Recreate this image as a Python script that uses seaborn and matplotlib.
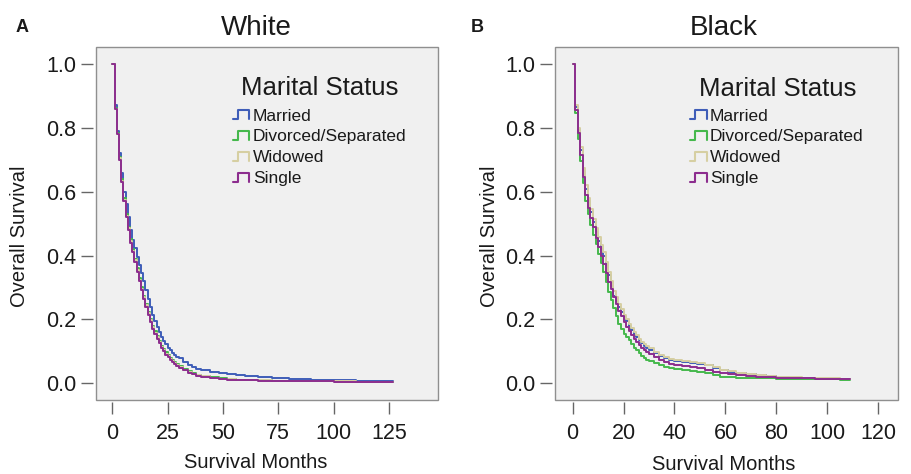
import matplotlib
matplotlib.use("Agg")
import matplotlib.pyplot as plt
import pandas as pd
import seaborn as sns
from matplotlib.legend_handler import HandlerBase
from matplotlib.lines import Line2D
from matplotlib.patches import Rectangle

# ---------------------------------------------------------------------------
# Data
# ---------------------------------------------------------------------------

STATUSES = ["Married", "Divorced/Separated", "Widowed", "Single"]
COLORS = ["#3F5DB8", "#45B84C", "#D6CFA2", "#8C2D8E"]

WHITE_MONTHS = [0, 1, 2, 3, 4, 5, 6, 7, 8, 9, 10, 11, 12,
                13, 14, 15, 16, 17, 18, 19, 20, 21, 22, 23, 24, 25, 26, 27,
                28, 29, 30,
                32, 34, 36, 38, 40,
                44, 48, 52, 56, 60,
                66, 72,
                80, 90, 100, 110, 120, 127]
WHITE_MARRIED = [1.0, 0.87, 0.79, 0.72, 0.66, 0.60, 0.56, 0.52, 0.48, 0.45,
                 0.425, 0.395, 0.37,
                 0.345, 0.32, 0.292, 0.265, 0.24, 0.215, 0.195, 0.175, 0.16,
                 0.145, 0.133, 0.122, 0.112, 0.103, 0.096, 0.09, 0.084, 0.079,
                 0.066, 0.058, 0.051, 0.046, 0.042,
                 0.037, 0.032, 0.028, 0.025, 0.022,
                 0.019, 0.017,
                 0.015, 0.012, 0.010, 0.008, 0.006, 0.005]
WHITE_DIVORCED = [1.0, 0.862, 0.785, 0.71, 0.64, 0.58, 0.53, 0.49, 0.452,
                  0.42, 0.39, 0.36, 0.33,
                  0.302, 0.275, 0.25, 0.225, 0.202, 0.18, 0.164, 0.148, 0.133,
                  0.118, 0.107, 0.097, 0.088, 0.08, 0.073, 0.066, 0.06, 0.054,
                  0.045, 0.038, 0.032, 0.027, 0.024,
                  0.019, 0.016, 0.014, 0.012, 0.011,
                  0.010, 0.009,
                  0.008, 0.007, 0.006, 0.005, 0.005, 0.004]
WHITE_WIDOWED = [1.0, 0.858, 0.78, 0.705, 0.635, 0.575, 0.525, 0.485, 0.446,
                 0.415, 0.385, 0.355, 0.325,
                 0.297, 0.27, 0.245, 0.22, 0.197, 0.175, 0.159, 0.144, 0.129,
                 0.114, 0.103, 0.093, 0.085, 0.077, 0.07, 0.063, 0.057, 0.052,
                 0.043, 0.036, 0.030, 0.026, 0.023,
                 0.018, 0.015, 0.013, 0.012, 0.011,
                 0.010, 0.009,
                 0.008, 0.007, 0.006, 0.005, 0.005, 0.004]
WHITE_SINGLE = [1.0, 0.86, 0.78, 0.70, 0.63, 0.57, 0.52, 0.48, 0.44, 0.41,
                0.38, 0.35, 0.32,
                0.292, 0.265, 0.24, 0.215, 0.192, 0.17, 0.155, 0.14, 0.125,
                0.11, 0.10, 0.09, 0.082, 0.074, 0.067, 0.06, 0.054, 0.049,
                0.041, 0.034, 0.028, 0.024, 0.021,
                0.017, 0.014, 0.012, 0.011, 0.010,
                0.009, 0.008,
                0.007, 0.006, 0.005, 0.005, 0.004, 0.004]

BLACK_MONTHS = [0, 1, 2, 3, 4, 5, 6, 7, 8, 9, 10, 11, 12,
                13, 14, 15, 16, 17, 18, 19, 20, 21, 22, 23, 24, 25, 26, 27,
                28, 29, 30,
                32, 34, 36, 38, 40,
                43, 46, 49, 52, 55, 58, 61, 64,
                68, 72, 76, 80, 85, 90, 95, 100, 105, 109]
BLACK_MARRIED = [1.0, 0.865, 0.795, 0.73, 0.665, 0.61, 0.57, 0.535, 0.505,
                 0.475, 0.445, 0.42, 0.40,
                 0.37, 0.34, 0.305, 0.275, 0.257, 0.24, 0.225, 0.21, 0.195,
                 0.18, 0.167, 0.155, 0.145, 0.135, 0.126, 0.118, 0.111, 0.105,
                 0.095, 0.087, 0.08, 0.074, 0.069,
                 0.066, 0.064, 0.062, 0.056, 0.048, 0.041, 0.036, 0.032,
                 0.028, 0.025, 0.022, 0.020, 0.018, 0.016, 0.015, 0.014,
                 0.013, 0.013]
BLACK_DIVORCED = [1.0, 0.845, 0.765, 0.695, 0.628, 0.572, 0.53, 0.495, 0.465,
                  0.435, 0.405, 0.378, 0.35,
                  0.318, 0.285, 0.26, 0.235, 0.21, 0.185, 0.17, 0.155, 0.145,
                  0.135, 0.123, 0.112, 0.103, 0.095, 0.086, 0.078, 0.074,
                  0.07,
                  0.064, 0.057, 0.052, 0.048, 0.045,
                  0.041, 0.039, 0.036, 0.032, 0.026, 0.021, 0.019, 0.018,
                  0.017, 0.016, 0.016, 0.015, 0.015, 0.014, 0.014, 0.013,
                  0.012, 0.012]
BLACK_WIDOWED = [1.0, 0.87, 0.80, 0.74, 0.675, 0.62, 0.58, 0.545, 0.515,
                 0.485, 0.458, 0.432, 0.41,
                 0.38, 0.35, 0.32, 0.29, 0.27, 0.25, 0.232, 0.215, 0.20,
                 0.185, 0.172, 0.16, 0.15, 0.14, 0.131, 0.123, 0.116, 0.11,
                 0.099, 0.09, 0.083, 0.077, 0.072,
                 0.069, 0.067, 0.065, 0.058, 0.05, 0.043, 0.038, 0.033,
                 0.029, 0.026, 0.023, 0.021, 0.019, 0.018, 0.017, 0.016,
                 0.015, 0.015]
BLACK_SINGLE = [1.0, 0.856, 0.783, 0.715, 0.647, 0.59, 0.548, 0.517, 0.49,
                0.455, 0.428, 0.40, 0.375,
                0.346, 0.318, 0.294, 0.27, 0.249, 0.228, 0.21, 0.192, 0.177,
                0.163, 0.151, 0.14, 0.13, 0.12, 0.112, 0.104, 0.098, 0.092,
                0.082, 0.074, 0.068, 0.062, 0.058,
                0.054, 0.051, 0.048, 0.043, 0.037, 0.032, 0.028, 0.025,
                0.023, 0.021, 0.019, 0.018, 0.017, 0.016, 0.015, 0.014,
                0.013, 0.013]

WHITE_XTICKS = [0, 25, 50, 75, 100, 125]
BLACK_XTICKS = [0, 20, 40, 60, 80, 100, 120]
YTICKS = [0.0, 0.2, 0.4, 0.6, 0.8, 1.0]


def long_frame(months, series):
    rows = []
    for status, values in zip(STATUSES, series):
        for m, v in zip(months, values):
            rows.append({"month": m, "survival": v, "status": status})
    return pd.DataFrame(rows)


class StepHandler(HandlerBase):
    """Legend key drawn as a small step, SPSS style."""

    def create_artists(self, legend, orig_handle, xdescent, ydescent,
                       width, height, fontsize, trans):
        x0, y0 = -xdescent, -ydescent
        lo, hi = y0 + 0.1 * height, y0 + 0.85 * height
        xs = [x0, x0 + 0.3 * width, x0 + 0.3 * width, x0 + 0.95 * width,
              x0 + 0.95 * width]
        ys = [lo, lo, hi, hi, lo]
        line = Line2D(xs, ys, color=orig_handle.get_color(), lw=1.5)
        line.set_transform(trans)
        return [line]


sns.set_style("white")
plt.rcParams["font.family"] = ["Liberation Sans", "DejaVu Sans"]

W, H = 911, 474
fig = plt.figure(figsize=(W / 100, H / 100), dpi=100)

TEXT = "#1a1a1a"
panels = [
    dict(name="White", letter="A", months=WHITE_MONTHS,
         series=[WHITE_MARRIED, WHITE_DIVORCED, WHITE_WIDOWED, WHITE_SINGLE],
         box=(95.7, 438.0), xlim=(-7.5, 147.2), xticks=WHITE_XTICKS,
         title_x=256, letter_x=16, ylab_x=20, xlab=(256, 462),
         leg_x=0.401, leg_title=(0.654, 0.864)),
    dict(name="Black", letter="B", months=BLACK_MONTHS,
         series=[BLACK_MARRIED, BLACK_DIVORCED, BLACK_WIDOWED, BLACK_SINGLE],
         box=(555.0, 897.7), xlim=(-6.9, 127.6), xticks=BLACK_XTICKS,
         title_x=724, letter_x=471, ylab_x=489, xlab=(724, 465),
         leg_x=0.394, leg_title=(0.650, 0.861)),
]

top_px, bot_px = 47.0, 400.0
for p in panels:
    left, right = p["box"]
    ax = fig.add_axes([left / W, 1 - bot_px / H, (right - left) / W,
                       (bot_px - top_px) / H])
    ax.set_facecolor("#F0F0F0")

    df = long_frame(p["months"], p["series"])
    sns.lineplot(data=df, x="month", y="survival", hue="status",
                 hue_order=STATUSES, palette=dict(zip(STATUSES, COLORS)),
                 drawstyle="steps-post", estimator=None, legend=False,
                 lw=1.4, ax=ax)

    ax.set_xlim(*p["xlim"])
    ax.set_ylim(-0.052, 1.053)
    ax.set_xticks(p["xticks"])
    ax.set_yticks(YTICKS)
    ax.set_yticklabels([f"{v:.1f}" for v in YTICKS])
    ax.set_xlabel("")
    ax.set_ylabel("")

    for s in ax.spines.values():
        s.set_visible(False)
    ax.spines["left"].set_position(("outward", 2))
    ax.spines["bottom"].set_position(("outward", 1.3))
    ax.add_patch(Rectangle((0, 0), 1, 1, transform=ax.transAxes, fill=False,
                           edgecolor="#8f8f8f", lw=1.0, clip_on=False,
                           zorder=5))
    ax.tick_params(axis="both", which="major", length=8.6, width=1.0,
                   color="#666666", labelcolor=TEXT, labelsize=15.5,
                   left=True, bottom=True)
    ax.tick_params(axis="y", pad=3.5)
    ax.tick_params(axis="x", pad=7)

    # legend title drawn on its own so the gap above the keys matches
    ax.text(*p["leg_title"], "Marital Status", transform=ax.transAxes,
            ha="center", va="baseline", fontsize=18.5, color=TEXT)
    handles = [Line2D([], [], color=c) for c in COLORS]
    leg = ax.legend(handles, STATUSES, loc="upper left",
                    bbox_to_anchor=(p["leg_x"], 0.826),
                    frameon=False, borderpad=0, borderaxespad=0,
                    fontsize=12.5, labelspacing=0.33,
                    handlelength=1.0, handletextpad=0.15,
                    handler_map={Line2D: StepHandler()})
    for t in leg.get_texts():
        t.set_color(TEXT)

    fig.text(p["title_x"] / W, 1 - 35 / H, p["name"], ha="center",
             va="baseline", fontsize=20, color=TEXT)
    fig.text(p["letter_x"] / W, 1 - 32 / H, p["letter"], ha="left",
             va="baseline", fontsize=13, fontweight="bold", color=TEXT)
    fig.text(p["ylab_x"] / W, 1 - 236 / H, "Overall Survival", ha="center",
             va="center", rotation=90, fontsize=14.5, color=TEXT)
    fig.text(p["xlab"][0] / W, 1 - p["xlab"][1] / H, "Survival Months",
             ha="center", va="center", fontsize=14.5, color=TEXT)

fig.savefig("out.png", dpi=100, facecolor="white")
